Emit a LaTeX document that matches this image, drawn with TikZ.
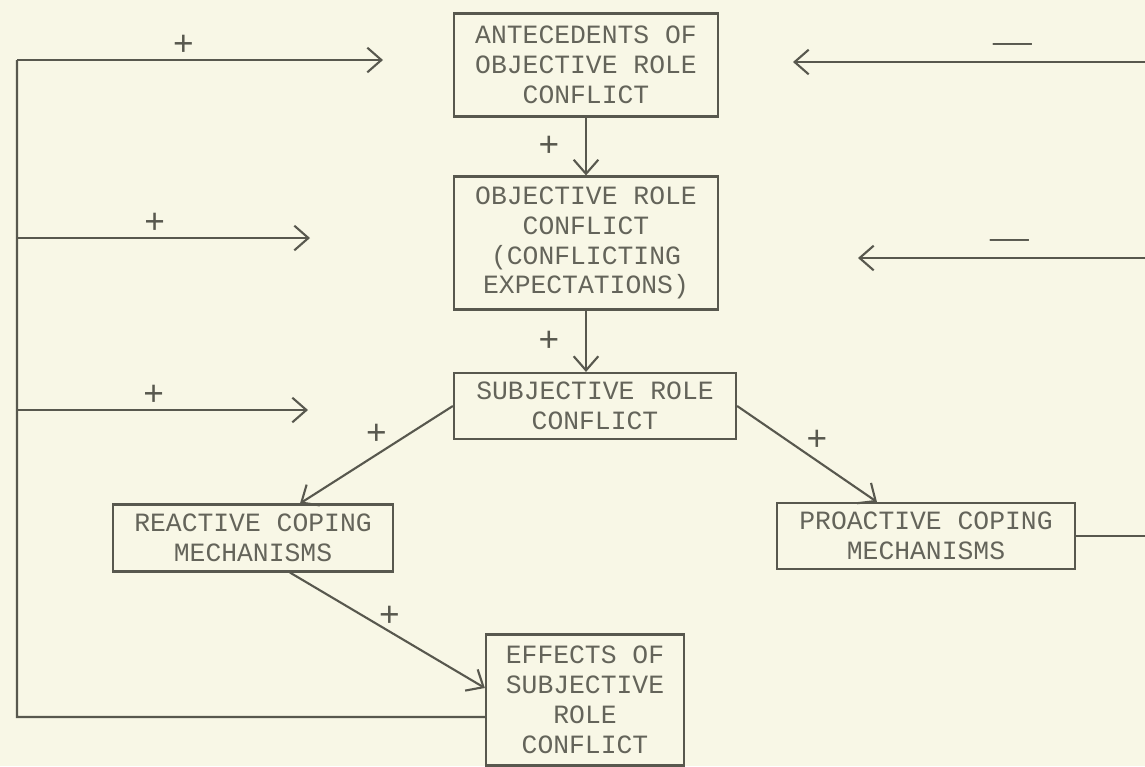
\documentclass[tikz,border=0pt]{standalone}
\usepackage{fontspec}
\setmainfont{Liberation Serif}
\setmonofont{Liberation Mono}
\usetikzlibrary{arrows.meta}
\definecolor{paper}{RGB}{248,247,230}
\definecolor{ink}{RGB}{88,88,78}
\definecolor{typeink}{RGB}{100,100,90}
\begin{document}
\begin{tikzpicture}[x=0.01cm, y=-0.01cm,
        box/.style={draw=ink, line width=0.6pt, align=center, inner sep=0pt, text=typeink,
            font=\ttfamily\fontsize{7.5}{8.5}\selectfont},
        arr/.style={draw=ink, line width=0.6pt, -{Straight Barb[length=4pt,width=7pt]}},
        link/.style={draw=ink, line width=0.6pt},
        sign/.style={text=ink, inner sep=1pt, font=\ttfamily\fontsize{10}{10}\selectfont},
        minus/.style={text=ink, inner sep=1pt, font=\fontsize{11}{11}\selectfont}]
        % Paper
        \fill[paper] (0,0) rectangle (1145,766);
        \useasboundingbox (0,0) rectangle (1145,766);

        % Boxes
        \node[box, minimum width=2.64cm, minimum height=1.03cm] (ante) at (586,65) {ANTECEDENTS OF\\OBJECTIVE ROLE\\CONFLICT};
        \node[box, minimum width=2.64cm, minimum height=1.33cm] (objrc) at (586,243) {OBJECTIVE ROLE\\CONFLICT\\(CONFLICTING\\EXPECTATIONS)};
        \node[box, minimum width=2.82cm, minimum height=0.66cm] (subjrc) at (595,406) {SUBJECTIVE ROLE\\CONFLICT};
        \node[box, minimum width=2.80cm, minimum height=0.67cm] (react) at (253,538) {REACTIVE COPING\\MECHANISMS};
        \node[box, minimum width=2.97cm, minimum height=0.66cm] (proact) at (926,536) {PROACTIVE COPING\\MECHANISMS};
        \node[box, minimum width=1.98cm, minimum height=1.31cm] (effects) at (585,700) {EFFECTS OF\\SUBJECTIVE\\ROLE\\CONFLICT};

        % Main chain
        \draw[arr] (ante) -- (objrc) node[sign, midway, left=0.22cm] {+};
        \draw[arr] (objrc.south) -- (objrc.south |- subjrc.north) node[sign, midway, left=0.22cm] {+};
        \draw[arr] (subjrc.west) -- ([xshift=0.47cm]react.north) node[sign, midway, above=0.06cm] {+};
        \draw[arr] (subjrc.east) -- ([xshift=-0.49cm]proact.north) node[sign, pos=0.57, above=0.06cm] {+};
        \draw[arr] ([xshift=0.37cm]react.south) -- ([yshift=0.12cm]effects.west) node[sign, pos=0.51, above=0pt] {+};

        % Feedback loop on the left
        \coordinate (fbbottom) at (17,717);
        \coordinate (fbtop) at (17,60);
        \coordinate (fbmid) at (17,238);
        \coordinate (fblow) at (17,410);
        \coordinate (tipante) at (383,60);
        \coordinate (tipobj) at (310,238);
        \coordinate (tipsubj) at (308,410);
        \draw[link] ([yshift=-0.17cm]effects.west) -- (fbbottom) -- (fbtop);
        \draw[arr] (fbtop) -- (tipante) node[sign, pos=0.455, above=0pt] {+};
        \draw[arr] (fbmid) -- (tipobj) node[sign, pos=0.47, above=0pt] {+};
        \draw[arr] (fblow) -- (tipsubj) node[sign, pos=0.47, above=0pt] {+};

        % Feedback from proactive coping
        \coordinate (prout) at (1145,536);
        \coordinate (rtop) at (1145,62);
        \coordinate (rmid) at (1145,258);
        \coordinate (tipr1) at (793,62);
        \coordinate (tipr2) at (858,258);
        \draw[link] (proact.east) -- (prout);
        \draw[arr] (rtop) -- (tipr1) node[minus, pos=0.375, above=1pt] {—};
        \draw[arr] (rmid) -- (tipr2) node[minus, pos=0.47, above=1pt] {—};
    \end{tikzpicture}
\end{document}
